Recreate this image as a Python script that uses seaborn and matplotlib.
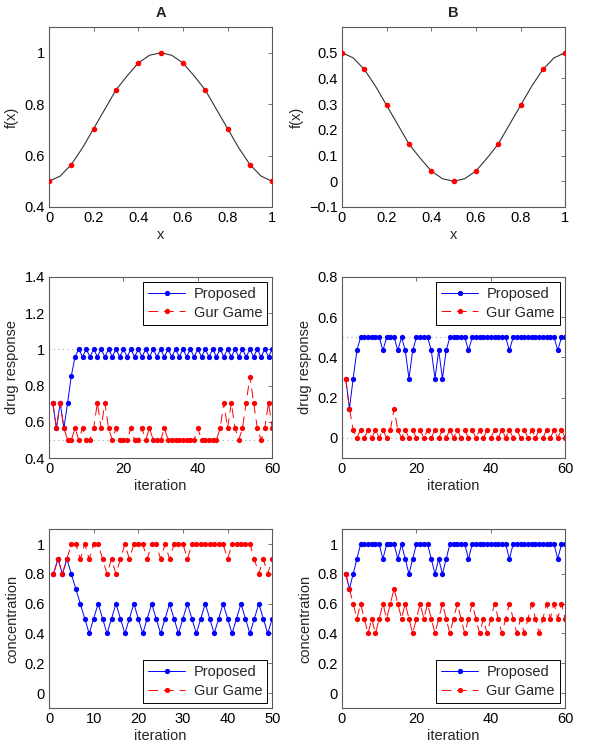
import matplotlib
matplotlib.use("Agg")
import matplotlib.pyplot as plt
import seaborn as sns

# ---- top row: objective functions f(x) ----
x_fine = [0.0, 0.05, 0.1, 0.15, 0.2, 0.25, 0.3, 0.35, 0.4, 0.45, 0.5,
          0.55, 0.6, 0.65, 0.7, 0.75, 0.8, 0.85, 0.9, 0.95, 1.0]
fa_fine = [0.5, 0.52, 0.565, 0.63, 0.705, 0.78, 0.855, 0.91, 0.96, 0.99, 1.0,
           0.99, 0.96, 0.91, 0.855, 0.78, 0.705, 0.63, 0.565, 0.52, 0.5]
fb_fine = [0.5, 0.48, 0.435, 0.37, 0.295, 0.22, 0.145, 0.09, 0.04, 0.01, 0.0,
           0.01, 0.04, 0.09, 0.145, 0.22, 0.295, 0.37, 0.435, 0.48, 0.5]
x_pts = [0.0, 0.1, 0.2, 0.3, 0.4, 0.5, 0.6, 0.7, 0.8, 0.9, 1.0]
fa_pts = [0.5, 0.565, 0.705, 0.855, 0.96, 1.0, 0.96, 0.855, 0.705, 0.565, 0.5]
fb_pts = [0.5, 0.435, 0.295, 0.145, 0.04, 0.0, 0.04, 0.145, 0.295, 0.435, 0.5]

# ---- middle row: drug response per iteration ----
iter60 = list(range(1, 61))
iter50 = list(range(1, 51))

resp_a_prop = [0.705, 0.565, 0.705, 0.565, 0.705, 0.855, 0.96, 1.0, 0.96, 1.0,
               0.96, 1.0, 0.96, 1.0, 0.96, 1.0, 0.96, 1.0, 0.96, 1.0,
               0.96, 1.0, 0.96, 1.0, 0.96, 1.0, 0.96, 1.0, 0.96, 1.0,
               0.96, 1.0, 0.96, 1.0, 0.96, 1.0, 0.96, 1.0, 0.96, 1.0,
               0.96, 1.0, 0.96, 1.0, 0.96, 1.0, 0.96, 1.0, 0.96, 1.0,
               0.96, 1.0, 0.96, 1.0, 0.96, 1.0, 0.96, 1.0, 0.96, 1.0]
resp_a_gur = [0.705, 0.565, 0.705, 0.565, 0.5, 0.5, 0.565, 0.5, 0.565, 0.5,
              0.5, 0.565, 0.705, 0.565, 0.705, 0.565, 0.5, 0.565, 0.5, 0.5,
              0.5, 0.565, 0.5, 0.5, 0.565, 0.5, 0.565, 0.5, 0.5, 0.5,
              0.565, 0.5, 0.5, 0.5, 0.5, 0.5, 0.5, 0.5, 0.5, 0.565,
              0.5, 0.5, 0.5, 0.5, 0.5, 0.565, 0.705, 0.565, 0.705, 0.565,
              0.5, 0.565, 0.705, 0.85, 0.705, 0.565, 0.5, 0.565, 0.705, 0.565]

resp_b_prop = [0.295, 0.145, 0.295, 0.435, 0.5, 0.5, 0.5, 0.5, 0.5, 0.5,
               0.435, 0.5, 0.5, 0.5, 0.435, 0.5, 0.435, 0.295, 0.435, 0.5,
               0.5, 0.5, 0.5, 0.435, 0.295, 0.435, 0.295, 0.435, 0.5, 0.5,
               0.5, 0.5, 0.5, 0.435, 0.5, 0.5, 0.5, 0.5, 0.5, 0.5,
               0.5, 0.5, 0.5, 0.5, 0.435, 0.5, 0.5, 0.5, 0.5, 0.5,
               0.5, 0.5, 0.5, 0.5, 0.5, 0.5, 0.5, 0.435, 0.5, 0.5]
resp_b_gur = [0.295, 0.145, 0.04, 0.0, 0.04, 0.0, 0.04, 0.0, 0.04, 0.0,
              0.04, 0.0, 0.04, 0.145, 0.04, 0.0, 0.04, 0.0, 0.04, 0.0,
              0.04, 0.0, 0.04, 0.0, 0.04, 0.0, 0.04, 0.0, 0.04, 0.0,
              0.04, 0.0, 0.04, 0.0, 0.04, 0.0, 0.04, 0.0, 0.04, 0.0,
              0.04, 0.0, 0.04, 0.0, 0.04, 0.0, 0.04, 0.0, 0.04, 0.0,
              0.04, 0.0, 0.04, 0.0, 0.04, 0.0, 0.04, 0.0, 0.04, 0.0]

# ---- bottom row: concentration per iteration ----
conc_a_prop = [0.8, 0.9, 0.8, 0.9, 0.8, 0.7, 0.6, 0.5, 0.4, 0.5,
               0.6, 0.5, 0.4, 0.5, 0.6, 0.5, 0.4, 0.5, 0.6, 0.5,
               0.4, 0.5, 0.6, 0.5, 0.4, 0.5, 0.6, 0.5, 0.4, 0.5,
               0.6, 0.5, 0.4, 0.5, 0.6, 0.5, 0.4, 0.5, 0.6, 0.5,
               0.4, 0.5, 0.6, 0.5, 0.4, 0.5, 0.6, 0.5, 0.4, 0.5]
conc_a_gur = [0.8, 0.9, 0.8, 0.9, 1.0, 1.0, 0.9, 1.0, 0.9, 1.0,
              1.0, 0.9, 0.8, 0.9, 0.8, 0.9, 1.0, 0.9, 1.0, 1.0,
              1.0, 0.9, 1.0, 1.0, 0.9, 1.0, 0.9, 1.0, 1.0, 1.0,
              0.9, 1.0, 1.0, 1.0, 1.0, 1.0, 1.0, 1.0, 1.0, 0.9,
              1.0, 1.0, 1.0, 1.0, 1.0, 0.9, 0.8, 0.9, 0.8, 0.9]

conc_b_prop = [0.8, 0.7, 0.8, 0.9, 1.0, 1.0, 1.0, 1.0, 1.0, 1.0,
               0.9, 1.0, 1.0, 1.0, 0.9, 1.0, 0.9, 0.8, 0.9, 1.0,
               1.0, 1.0, 1.0, 0.9, 0.8, 0.9, 0.8, 0.9, 1.0, 1.0,
               1.0, 1.0, 1.0, 0.9, 1.0, 1.0, 1.0, 1.0, 1.0, 1.0,
               1.0, 1.0, 1.0, 1.0, 0.9, 1.0, 1.0, 1.0, 1.0, 1.0,
               1.0, 1.0, 1.0, 1.0, 1.0, 1.0, 1.0, 0.9, 1.0, 1.0]
conc_b_gur = [0.8, 0.7, 0.6, 0.5, 0.6, 0.5, 0.4, 0.5, 0.4, 0.5,
              0.6, 0.5, 0.6, 0.7, 0.6, 0.5, 0.6, 0.5, 0.4, 0.5,
              0.6, 0.5, 0.6, 0.5, 0.4, 0.5, 0.6, 0.5, 0.4, 0.5,
              0.6, 0.5, 0.4, 0.5, 0.6, 0.5, 0.4, 0.5, 0.4, 0.5,
              0.6, 0.5, 0.4, 0.5, 0.6, 0.5, 0.4, 0.5, 0.4, 0.5,
              0.6, 0.5, 0.4, 0.5, 0.6, 0.5, 0.6, 0.5, 0.6, 0.5]

sns.set_theme(style="white")
plt.rcParams['font.family'] = ['Liberation Sans', 'DejaVu Sans']
plt.rcParams['font.size'] = 10
plt.rcParams['axes.unicode_minus'] = True

BLUE = "#0000ff"
RED = "#ff0000"
EDGE = "#5a5a5a"


def fmt(v):
    s = f"{v:.1f}"
    if s.endswith(".0"):
        s = s[:-2]
    if s == "-0":
        s = "0"
    return s.replace("-", "\u2212")


def style_axes(ax, xticks, yticks, xlim, ylim, xlabel, ylabel):
    ax.set_xlim(*xlim)
    ax.set_ylim(*ylim)
    ax.set_xticks(xticks)
    ax.set_yticks(yticks)
    ax.set_xticklabels([fmt(v) for v in xticks])
    ax.set_yticklabels([fmt(v) for v in yticks])
    ax.tick_params(direction="in", top=True, right=True, length=3,
                   width=0.6, color=EDGE, labelsize=10.5, pad=3,
                   labelcolor="black")
    for sp in ax.spines.values():
        sp.set_visible(True)
        sp.set_color(EDGE)
        sp.set_linewidth(0.8)
    ax.set_xlabel(xlabel, fontsize=10.5, labelpad=2)
    ax.set_ylabel(ylabel, fontsize=10.5, labelpad=4)
    ax.grid(False)


def func_panel(ax, title, y_fine, y_pts, ylim, yticks):
    sns.lineplot(x=x_fine, y=y_fine, ax=ax, color="#333333", linewidth=0.8)
    sns.scatterplot(x=x_pts, y=y_pts, ax=ax, color=RED, s=16,
                    edgecolor=RED, linewidth=0, zorder=3)
    style_axes(ax, [0, 0.2, 0.4, 0.6, 0.8, 1.0], yticks, (0, 1), ylim,
               "x", "f(x)")
    ax.set_title(title, fontsize=10.5, fontweight="bold", pad=7)


def iter_panel(ax, it, prop, gur, xlim, xticks, ylim, yticks, ylabel,
               legend_loc, refs=None):
    if refs:
        for r in refs:
            ax.axhline(r, color="#aaaaaa", linestyle=(0, (1, 3)),
                       linewidth=0.8, zorder=0)
    sns.lineplot(x=it, y=prop, ax=ax, color=BLUE, linewidth=0.7,
                 marker="o", markersize=3.8, markeredgewidth=0,
                 markerfacecolor=BLUE, label="Proposed", alpha=1)
    sns.lineplot(x=it, y=gur, ax=ax, color=RED, linewidth=0.7,
                 marker="o", markersize=3.8, markeredgewidth=0,
                 markerfacecolor=RED, label="Gur Game",
                 dashes=False, linestyle=(0, (10, 6)))
    style_axes(ax, xticks, yticks, xlim, ylim, "iteration", ylabel)
    leg = ax.legend(loc=legend_loc, fontsize=10.5, frameon=True,
                    fancybox=False, framealpha=1, edgecolor="black",
                    handlelength=2.5, borderaxespad=0.35, borderpad=0.35,
                    labelspacing=0.3, handletextpad=0.6)
    leg.get_frame().set_linewidth(0.7)


fig = plt.figure(figsize=(6.0, 7.48), dpi=100)
colx = [0.0817, 0.570]
w = 0.372
rows = [(0.7233, 0.2406), (0.3877, 0.242), (0.0535, 0.239)]

ax = fig.add_axes([colx[0], rows[0][0], w, rows[0][1]])
func_panel(ax, "A", fa_fine, fa_pts, (0.4, 1.1), [0.4, 0.6, 0.8, 1.0])
ax = fig.add_axes([colx[1], rows[0][0], w, rows[0][1]])
func_panel(ax, "B", fb_fine, fb_pts, (-0.1, 0.6),
           [-0.1, 0.0, 0.1, 0.2, 0.3, 0.4, 0.5])

ax = fig.add_axes([colx[0], rows[1][0], w, rows[1][1]])
iter_panel(ax, iter60, resp_a_prop, resp_a_gur, (0, 60), [0, 20, 40, 60],
           (0.4, 1.4), [0.4, 0.6, 0.8, 1.0, 1.2, 1.4], "drug response",
           "upper right", refs=[1.0, 0.5])
ax = fig.add_axes([colx[1], rows[1][0], w, rows[1][1]])
iter_panel(ax, iter60, resp_b_prop, resp_b_gur, (0, 60), [0, 20, 40, 60],
           (-0.1, 0.8), [0.0, 0.2, 0.4, 0.6, 0.8], "drug response",
           "upper right", refs=[0.5, 0.0])

ax = fig.add_axes([colx[0], rows[2][0], w, rows[2][1]])
iter_panel(ax, iter50, conc_a_prop, conc_a_gur, (0, 50),
           [0, 10, 20, 30, 40, 50], (-0.1, 1.1),
           [0.0, 0.2, 0.4, 0.6, 0.8, 1.0], "concentration", "lower right")
ax = fig.add_axes([colx[1], rows[2][0], w, rows[2][1]])
iter_panel(ax, iter60, conc_b_prop, conc_b_gur, (0, 60), [0, 20, 40, 60],
           (-0.1, 1.1), [0.0, 0.2, 0.4, 0.6, 0.8, 1.0], "concentration",
           "lower right")

fig.savefig("out.png", dpi=100, facecolor="white")
